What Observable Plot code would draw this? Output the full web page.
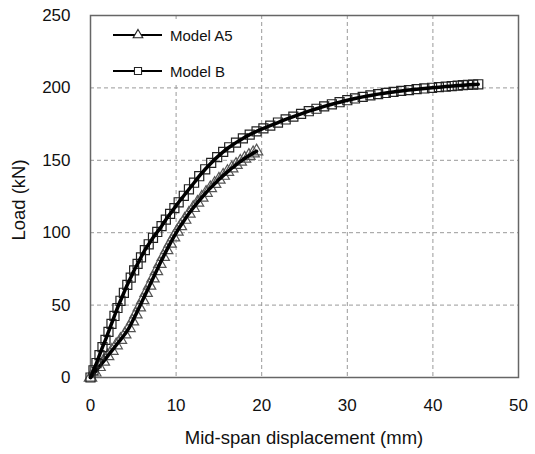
<!DOCTYPE html>
<html>
<head>
<meta charset="utf-8">
<script src="https://cdn.jsdelivr.net/npm/d3@7"></script>
<script src="https://cdn.jsdelivr.net/npm/@observablehq/plot@0.6"></script>
<style>
  html, body { margin: 0; padding: 0; background: #fff; }
  #wrap { position: relative; width: 535px; height: 454px; font-family: "Liberation Sans", Arial, sans-serif; color: #111; }
  #legend { position: absolute; left: 96px; top: 20px; width: 150px; height: 64px; background: #fff; }
  #legend .row { position: absolute; left: 0; height: 20px; display: flex; align-items: center; }
  #legend .row span { font-size: 15px; color: #111; margin-left: 4px; }
  #xlabel { position: absolute; left: 90px; width: 428px; top: 427px; text-align: center; font-size: 18.5px; }
  #ylabel { position: absolute; left: 19px; top: 200px; font-size: 18.5px; white-space: nowrap; transform: translate(-50%, -50%) rotate(-90deg); }
</style>
</head>
<body>
<div id="wrap">
  <div id="chart"></div>
  <div id="legend"></div>
  <div id="xlabel"></div>
  <div id="ylabel"></div>
</div>
<script>
// Series names and axis titles
const seriesNames = ["Model A5", "Model B"];
const xTitle = "Mid-span displacement (mm)";
const yTitle = "Load (kN)";

// Model A5 (triangles): mid-span displacement (mm) and load (kN)
const a5Disp = [0, 0.5, 1.0, 1.5, 2.0, 2.5, 3.0, 3.5, 4.0, 4.5, 4.9, 5.3, 5.7, 6.1, 6.5, 6.9, 7.3, 7.7, 8.1, 8.5,
  8.9, 9.3, 9.7, 10.1, 10.5, 11.0, 11.5, 12.0, 12.5, 13.0, 13.5, 14.0, 14.5, 15.0, 15.5, 16.0, 16.5, 17.0, 17.5,
  18.0, 18.5, 19.0, 19.4];
const a5Load = [0, 3.5, 7.3, 11, 14.8, 18.5, 22.3, 26, 29.8, 34.2, 38.8, 43.6, 48.5, 53.5, 58.5, 63.5, 68.5, 73.5, 78.5, 83.3,
  88, 92.5, 96.8, 100.8, 104.6, 109, 113.2, 117.1, 120.8, 124.3, 127.6, 130.8, 133.8, 136.7, 139.4, 142, 144.5, 146.9, 149.1,
  151.2, 153.1, 154.9, 156.2];

// Model B (squares)
const bDisp = [0, 0.35, 0.7, 1.05, 1.4, 1.75, 2.1, 2.45, 2.8, 3.15, 3.5, 3.9, 4.3, 4.7, 5.1, 5.5, 5.9, 6.35, 6.8, 7.3,
  7.8, 8.3, 8.8, 9.3, 9.8, 10.3, 10.9, 11.5, 12.1, 12.7, 13.4, 14.1, 14.8, 15.5, 16.2, 17.0, 17.8, 18.6, 19.4, 20.2,
  21.0, 21.9, 22.8, 23.7, 24.6, 25.5, 26.4, 27.3, 28.2, 29.1, 30.0, 30.9, 31.8, 32.7, 33.6, 34.5, 35.4, 36.3, 37.2,
  38.1, 39.0, 39.9, 40.7, 41.5, 42.2, 42.9, 43.5, 44.1, 44.7, 45.3];
const bLoad = [0, 5, 10, 15.5, 21, 26, 31.5, 37, 42.5, 48, 53, 58.5, 64, 69, 74, 78.5, 83, 88, 92, 96.5,
  100.5, 104.5, 109, 113, 117, 121, 125.5, 130, 134.5, 139, 143.8, 148.2, 152.2, 155.8, 159, 162.2, 165.1, 167.7, 170, 172.1,
  174, 176.1, 178.2, 180.2, 182.1, 183.9, 185.6, 187.2, 188.7, 190.1, 191.5, 192.7, 193.8, 194.8, 195.7, 196.5, 197.2, 197.9, 198.5,
  199.1, 199.6, 200.1, 200.5, 200.9, 201.3, 201.6, 201.9, 202.1, 202.3, 202.5];

// Axis ticks
const xTicks = [0, 10, 20, 30, 40, 50];
const yTicks = [0, 50, 100, 150, 200, 250];

const a5 = a5Disp.map((d, i) => ({disp: d, load: a5Load[i]}));
const b = bDisp.map((d, i) => ({disp: d, load: bLoad[i]}));

const chart = Plot.plot({
  width: 535,
  height: 454,
  marginLeft: 90,
  marginRight: 17,
  marginTop: 15,
  marginBottom: 77,
  style: {fontFamily: "Liberation Sans, Arial, sans-serif", fontSize: "17px", color: "#111", background: "#fff"},
  x: {domain: [0, 50]},
  y: {domain: [0, 250]},
  marks: [
    Plot.gridX(xTicks.filter(t => t > 0 && t < 50), {stroke: "#999", strokeOpacity: 1, strokeDasharray: "4,3", strokeWidth: 1}),
    Plot.gridY(yTicks.filter(t => t > 0 && t < 250), {stroke: "#999", strokeOpacity: 1, strokeDasharray: "4,3", strokeWidth: 1}),
    Plot.frame({stroke: "#666", strokeWidth: 1.5}),
    Plot.axisX(xTicks, {tickSize: 0, tickPadding: 21, fontSize: 17, label: null}),
    Plot.axisY(yTicks, {tickSize: 0, tickPadding: 20, fontSize: 17, label: null}),
    Plot.dot(a5, {x: "disp", y: "load", symbol: "triangle", r: 4.6, stroke: "#555", strokeWidth: 1.2, fill: "none"}),
    Plot.line(a5, {x: "disp", y: "load", stroke: "#000", strokeWidth: 3.5, curve: "monotone-x"}),
    Plot.dot(b, {x: "disp", y: "load", symbol: "square", r: 5.1, stroke: "#222", strokeWidth: 1.2, fill: "none"}),
    Plot.line(b, {x: "disp", y: "load", stroke: "#000", strokeWidth: 3.5, curve: "monotone-x"})
  ]
});
document.getElementById("chart").appendChild(chart);
document.getElementById("xlabel").textContent = xTitle;
document.getElementById("ylabel").textContent = yTitle;

// Legend
const legend = document.getElementById("legend");
const symbols = ["triangle", "square"];
seriesNames.forEach((name, i) => {
  const row = document.createElement("div");
  row.className = "row";
  row.style.top = (5 + i * 36) + "px";
  const svg = d3.create("svg").attr("width", 70).attr("height", 20);
  svg.append("line").attr("x1", 17).attr("x2", 66).attr("y1", 10).attr("y2", 10).attr("stroke", "#000").attr("stroke-width", 2);
  const sym = symbols[i] === "triangle" ? d3.symbolTriangle : d3.symbolSquare;
  const size = symbols[i] === "triangle" ? 40 : 50;
  svg.append("path").attr("d", d3.symbol(sym, size)()).attr("transform", "translate(42,10)")
    .attr("fill", "#fff").attr("stroke", "#222").attr("stroke-width", 1.1);
  row.appendChild(svg.node());
  const span = document.createElement("span");
  span.textContent = name;
  row.appendChild(span);
  legend.appendChild(row);
});
</script>
</body>
</html>
